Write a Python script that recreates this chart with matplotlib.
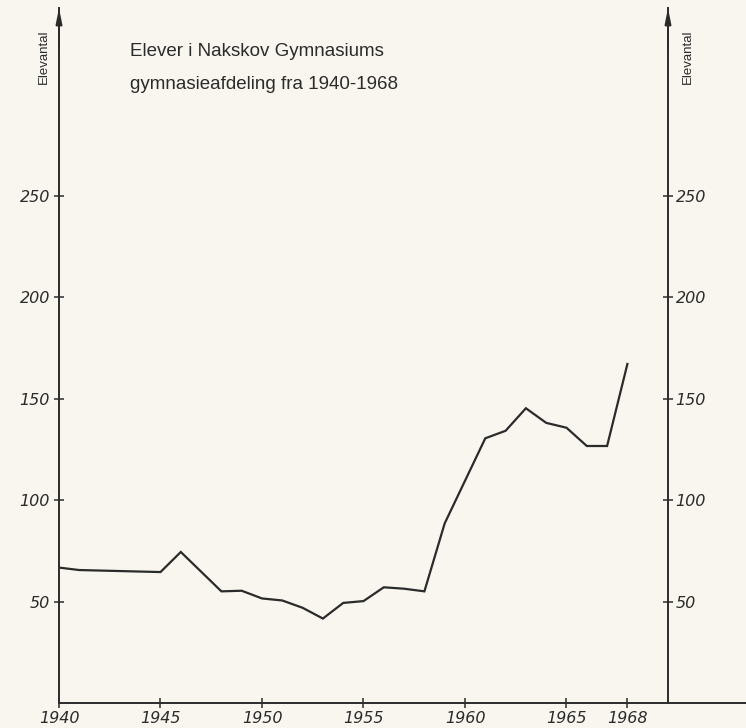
import matplotlib
matplotlib.use("Agg")
import matplotlib.pyplot as plt

# ---- data ----
years = [1940, 1941, 1945, 1946, 1948, 1949, 1950, 1951, 1952, 1953, 1954,
         1955, 1956, 1957, 1958, 1959, 1961, 1962, 1963, 1964, 1965, 1966,
         1967, 1968]
students = [66.7, 65.5, 64.5, 74.4, 55.0, 55.3, 51.5, 50.5, 46.9, 41.6, 49.3,
            50.2, 57.0, 56.3, 55.0, 88.5, 130.4, 134.1, 145.2, 138.0, 135.6,
            126.6, 126.6, 167.0]
x_ticks = [1940, 1945, 1950, 1955, 1960, 1965, 1968]
x_labels = ["1940", "1945", "1950", "1955", "1960", "1965", "1968"]
y_ticks = [50, 100, 150, 200, 250]
y_labels = ["50", "100", "150", "200", "250"]
title_lines = ["Elever i Nakskov Gymnasiums", "gymnasieafdeling fra 1940-1968"]
y_title = "Elevantal"

INK = "#2b2b2b"
PAPER = "#f8f6ef"

W, H = 746, 728
fig = plt.figure(figsize=(W / 100, H / 100), dpi=100, facecolor=PAPER)
x0 = 59
bottom = H - 703
ax = fig.add_axes([x0 / W, bottom / H, (W - x0) / W, (703 - 8) / H])
ax.set_facecolor(PAPER)
xmax = 1940 + (W - x0) / 20.3
ymax = (703 - 8) / 2.03
ax.set_xlim(1940, xmax)
ax.set_ylim(0, ymax)

ax.plot(years, students, color=INK, lw=1.6, solid_joinstyle="miter")

for s in ["top", "right"]:
    ax.spines[s].set_visible(False)
for s in ["left", "bottom"]:
    ax.spines[s].set_color(INK)
    ax.spines[s].set_linewidth(1.4)

tickfont = dict(family="DejaVu Sans", style="italic", size=11.5)
ax.set_xticks(x_ticks)
ax.set_xticklabels(x_labels, color=INK, **tickfont)
ax.set_yticks(y_ticks)
ax.set_yticklabels(y_labels, color=INK, **tickfont)
ax.tick_params(axis="both", direction="inout", length=7, width=1.1, color=INK)
ax.tick_params(axis="x", pad=2)
ax.tick_params(axis="y", pad=3)

# right axis
right_year = 1970.0
loc = (right_year - 1940) / (xmax - 1940)
sec = ax.secondary_yaxis(loc)
sec.spines["right"].set_color(INK)
sec.spines["right"].set_linewidth(1.4)
sec.set_yticks(y_ticks)
sec.set_yticklabels(y_labels, color=INK, **tickfont)
sec.tick_params(direction="inout", length=7, width=1.1, color=INK, pad=2)

# arrows on the vertical axes
for xa in (1940, right_year):
    ax.annotate("", xy=(xa, ymax), xytext=(xa, ymax - 20),
                arrowprops=dict(arrowstyle="-|>,head_length=0.9,head_width=0.18",
                                color=INK, lw=1.4, shrinkA=0, shrinkB=0),
                annotation_clip=False)

labfont = dict(family="Liberation Sans", size=9.5, color=INK, rotation=90,
               ha="center", va="center")
fig.text(44 / W, 1 - 57 / H, y_title, **labfont)
fig.text(688 / W, 1 - 57 / H, y_title, **labfont)

for line, base in zip(title_lines, (56, 89)):
    fig.text(130 / W, 1 - base / H, line, family="Liberation Sans", size=13.5,
             color=INK, ha="left", va="baseline")

fig.savefig("out.png", dpi=100, facecolor=PAPER)
